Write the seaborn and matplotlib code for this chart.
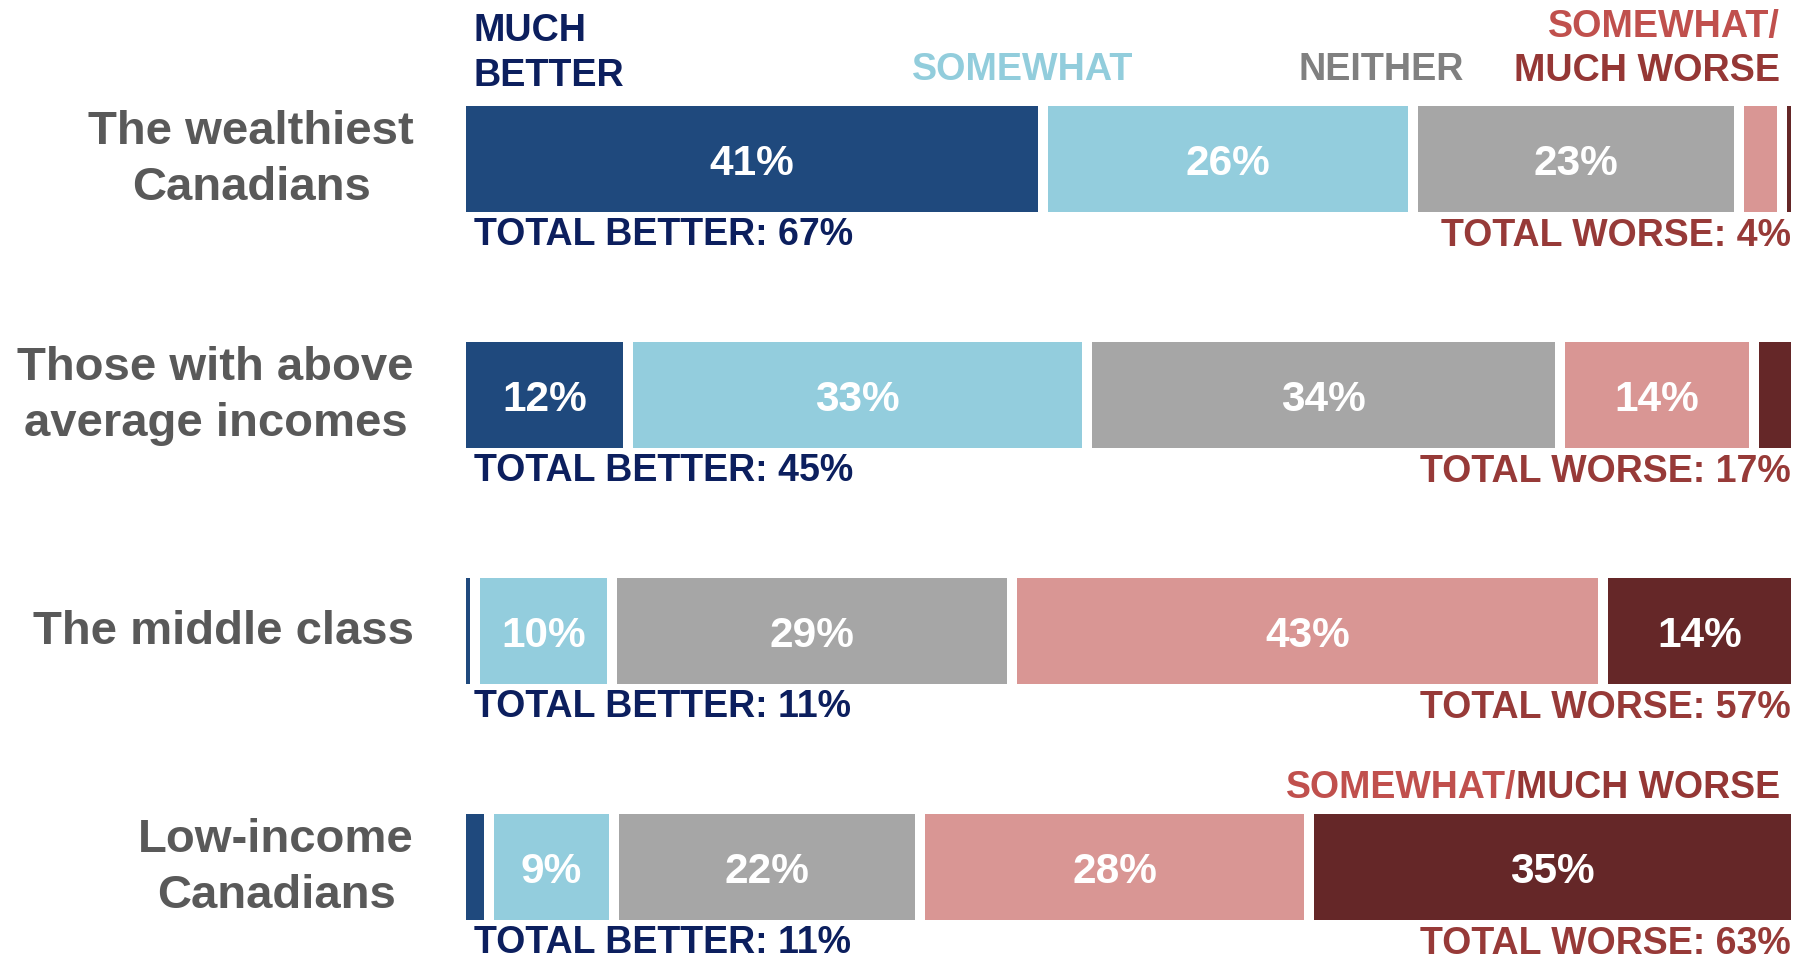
import matplotlib
matplotlib.use("Agg")
import matplotlib.pyplot as plt
import matplotlib.transforms as mtransforms
from matplotlib import font_manager
import seaborn as sns
import pandas as pd
import numpy as np

# ---------------- data ----------------
groups = ["The wealthiest\nCanadians", "Those with above\naverage incomes",
          "The middle class", "Low-income\nCanadians"]
much_better = [41, 12, 1, 2]
somewhat_better = [26, 33, 10, 9]
neither = [23, 34, 29, 22]
somewhat_worse = [3, 14, 43, 28]
much_worse = [1, 3, 14, 35]
total_better = [67, 45, 11, 11]
total_worse = [4, 17, 57, 63]

series = [much_better, somewhat_better, neither, somewhat_worse, much_worse]
colors = ["#1F497D", "#93CDDD", "#A6A6A6", "#D99694", "#652728"]

# ---------------- fonts ----------------
sns.set_style("white")
names = {f.name for f in font_manager.fontManager.ttflist}
HAS_NARROW = "Liberation Sans Narrow" in names
NARROW = "Liberation Sans Narrow" if HAS_NARROW else "Liberation Sans"
plt.rcParams["font.family"] = ["Liberation Sans", "DejaVu Sans"]
PCT_SIZE = 33 if HAS_NARROW else 30.5
HDR_SIZE = 31 if HAS_NARROW else 27.2

NAVY = "#0C1F5E"
RED = "#C0504D"
DARKRED = "#953735"
TOTRED = "#973A38"

W, H = 1812, 960
fig = plt.figure(figsize=(W / 100, H / 100), dpi=100)
ax_left, ax_w = 466, 1335
ax = fig.add_axes([ax_left / W, 0, ax_w / W, 1])

gap = 10 / ax_w
arr = np.array(series, dtype=float)
shares = arr / arr.sum(axis=0)
lefts = np.vstack([np.zeros(arr.shape[1]), np.cumsum(shares, axis=0)[:-1]])

for k in range(len(series)):
    df = pd.DataFrame({"group": groups, "w": shares[k] - gap})
    sns.barplot(data=df, x="w", y="group", orient="h", order=groups,
                color=colors[k], saturation=1, width=0.45, errorbar=None,
                left=lefts[k], linewidth=0, ax=ax)
    for i in range(len(groups)):
        v = series[k][i]
        if v >= 5:
            cx = lefts[k][i] + (shares[k][i] - gap) / 2
            ax.text(cx, i + 0.02, f"{v}%", ha="center", va="center", color="white",
                    fontsize=PCT_SIZE, fontweight="bold", family=NARROW)

ax.set_xlim(0, 1)
ax.set_ylim(3 + (H - 867) / 236, -159 / 236)
ax.set_xlabel("")
ax.set_ylabel("")
ax.set_xticks([])
ax.set_yticks([])
sns.despine(ax=ax, left=True, bottom=True)

trans = mtransforms.blended_transform_factory(ax.transAxes, ax.transData)
for i, g in enumerate(groups):
    ax.text(-52 / ax_w, i + 0.005, g, transform=trans, ha="right", va="center",
            multialignment="center", linespacing=1.36, fontsize=34,
            fontweight="bold", color="#595959", clip_on=False)

for i in range(len(groups)):
    ax.text(8 / ax_w, i + 0.322, f"TOTAL BETTER: {total_better[i]}%", transform=trans,
            ha="left", va="center", fontsize=27, fontweight="bold", color=NAVY)
    ax.text(1 - gap, i + 0.327, f"TOTAL WORSE: {total_worse[i]}%", transform=trans,
            ha="right", va="center", fontsize=27, fontweight="bold", color=TOTRED)

hdr = dict(transform=trans, va="center", fontsize=HDR_SIZE, fontweight="bold", family=NARROW)
ax.text(8 / ax_w, (31 - 159) / 236, "MUCH", ha="left", color=NAVY, **hdr)
ax.text(8 / ax_w, (76 - 159) / 236, "BETTER", ha="left", color=NAVY, **hdr)
ax.text((1023 - ax_left) / ax_w, (70 - 159) / 236, "SOMEWHAT", ha="center", color="#92CDDC", **hdr)
ax.text((1381 - ax_left) / ax_w, (70 - 159) / 236, "NEITHER", ha="center", color="#808080", **hdr)
ax.text((1780 - ax_left) / ax_w, (27 - 159) / 236, "SOMEWHAT/", ha="right", color=RED, **hdr)
ax.text((1780 - ax_left) / ax_w, (71 - 159) / 236, "MUCH WORSE", ha="right", color=DARKRED, **hdr)

mw = ax.text((1780 - ax_left) / ax_w, 3 - (867 - 788) / 236, "MUCH WORSE", transform=trans,
             ha="right", va="center", fontsize=27, fontweight="bold", color=DARKRED)
ax.annotate("SOMEWHAT/", xy=(0, 0.5), xycoords=mw, ha="right", va="center",
            fontsize=27, fontweight="bold", color=RED)

fig.savefig("out.png", dpi=100, facecolor="white")
